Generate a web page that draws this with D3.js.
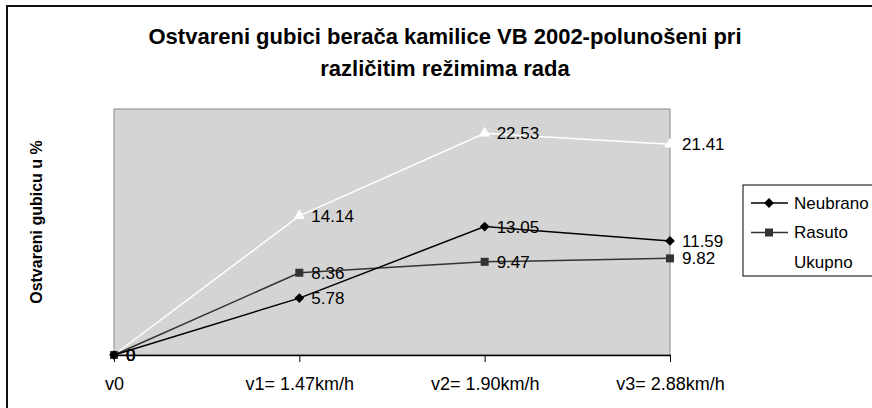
<!DOCTYPE html>
<html>
<head>
<meta charset="utf-8">
<script src="https://cdn.jsdelivr.net/npm/d3@7"></script>
<style>
  body { margin: 0; background: #fff; }
  svg { font-family: "Liberation Sans", Arial, sans-serif; }
</style>
</head>
<body>
<div id="vis"></div>
<script>
// categories and series
const categories = ["v0", "v1= 1.47km/h", "v2= 1.90km/h", "v3= 2.88km/h"];
const neubrano = [0, 5.78, 13.05, 11.59];
const rasuto = [0, 8.36, 9.47, 9.82];
const ukupno = [0, 14.14, 22.53, 21.41];
const seriesNames = ["Neubrano", "Rasuto", "Ukupno"];

const width = 872;
const height = 408;
const plot = { left: 114, right: 670, top: 109, bottom: 355 };

// diamond = square turned 45 degrees, like the excel marker
const series = [
  { name: seriesNames[0], values: neubrano, colour: "#000", symbol: d3.symbolSquare, size: 48, rot: 45 },
  { name: seriesNames[1], values: rasuto, colour: "#333", symbol: d3.symbolSquare, size: 64, rot: 0 },
  { name: seriesNames[2], values: ukupno, colour: "#fff", symbol: d3.symbolTriangle, size: 55, rot: 0 }
];

const svg = d3.select("#vis").append("svg")
  .attr("width", width)
  .attr("height", height);

// outer chart border (only top and left visible)
svg.append("path")
  .attr("d", `M7,${height} V6 H${width}`)
  .attr("fill", "none")
  .attr("stroke", "#111")
  .attr("stroke-width", 2);

// title
const title = svg.append("text")
  .attr("text-anchor", "middle")
  .style("font-weight", "bold")
  .style("font-size", "22px");
title.append("tspan").attr("x", 445).attr("y", 44).text("Ostvareni gubici berača kamilice VB 2002-polunošeni pri");
title.append("tspan").attr("x", 445).attr("y", 76).text("različitim režimima rada");

const x = d3.scalePoint()
  .domain(categories)
  .range([plot.left, plot.right])
  .padding(0);

const y = d3.scaleLinear()
  .domain([0, 25])
  .range([plot.bottom, plot.top]);

// plot area
svg.append("rect")
  .attr("x", plot.left)
  .attr("y", plot.top)
  .attr("width", plot.right - plot.left)
  .attr("height", plot.bottom - plot.top)
  .attr("fill", "#d4d4d4")
  .attr("stroke", "#8a8a8a")
  .attr("stroke-width", 1);

// x axis
const xAxis = svg.append("g")
  .attr("transform", `translate(0,${plot.bottom})`)
  .call(d3.axisBottom(x).tickSize(7).tickSizeOuter(0).tickPadding(15));
xAxis.select(".domain").attr("stroke", "#000").attr("stroke-width", 1.5);
xAxis.selectAll(".tick line").attr("stroke", "#000");
xAxis.selectAll(".tick text")
  .style("font-size", "18px")
  .style("font-family", "'Liberation Sans', Arial, sans-serif")
  .attr("fill", "#000");

// y axis title
svg.append("text")
  .attr("transform", "translate(42,222) rotate(-90)")
  .attr("text-anchor", "middle")
  .style("font-weight", "bold")
  .style("font-size", "16px")
  .text("Ostvareni gubicu u %");

const line = d3.line()
  .x((d, i) => x(categories[i]))
  .y(d => y(d));

// draw in reverse so Neubrano ends up on top
const groups = svg.selectAll(".series")
  .data(series.slice().reverse())
  .enter()
  .append("g")
  .attr("class", "series");

groups.append("path")
  .attr("d", d => line(d.values))
  .attr("fill", "none")
  .attr("stroke", d => d.colour)
  .attr("stroke-width", 1.5);

groups.each(function(s) {
  const g = d3.select(this);
  g.selectAll(".marker")
    .data(s.values)
    .enter()
    .append("path")
    .attr("class", "marker")
    .attr("transform", (d, i) => `translate(${x(categories[i])},${y(d)}) rotate(${s.rot})`)
    .attr("d", d3.symbol().type(s.symbol).size(s.size))
    .attr("fill", s.colour);
});

// data labels
groups.each(function(s) {
  d3.select(this).selectAll(".label")
    .data(s.values)
    .enter()
    .append("text")
    .attr("class", "label")
    .attr("x", (d, i) => x(categories[i]) + 12)
    .attr("y", d => y(d))
    .attr("dy", "0.35em")
    .style("font-size", "17px")
    .attr("fill", "#000")
    .text(d => d);
});

// legend
const legend = svg.append("g").attr("transform", "translate(743,185)");
legend.append("rect")
  .attr("x", 0)
  .attr("y", 0)
  .attr("width", 140)
  .attr("height", 91)
  .attr("fill", "#fff")
  .attr("stroke", "#000")
  .attr("stroke-width", 1);

const items = legend.selectAll(".item")
  .data(series)
  .enter()
  .append("g")
  .attr("transform", (d, i) => `translate(0,${18 + i * 29.5})`);

items.append("line")
  .attr("x1", 8).attr("x2", 45)
  .attr("stroke", d => d.colour)
  .attr("stroke-width", 1.5);

items.append("path")
  .attr("transform", d => `translate(26,0) rotate(${d.rot})`)
  .attr("d", d => d3.symbol().type(d.symbol).size(d.size)())
  .attr("fill", d => d.colour);

items.append("text")
  .attr("x", 51)
  .attr("dy", "0.35em")
  .style("font-size", "17px")
  .text(d => d.name);
</script>
</body>
</html>
